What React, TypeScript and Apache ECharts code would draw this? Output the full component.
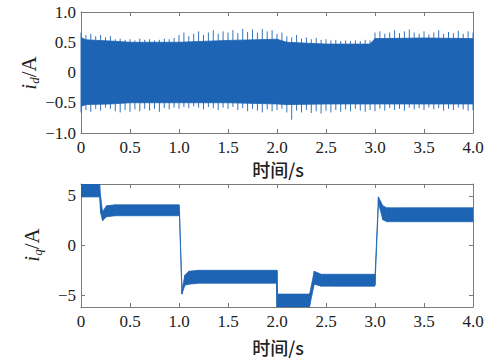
import React, { useEffect, useRef } from "react";
import * as echarts from "echarts";

// ---- i_d (top): dense oscillation, drawn as core band + tip envelope sampled every 0.05 s
const idStep = 0.05;
const idTipHi = [
  0.66, 0.62, 0.64, 0.6, 0.62, 0.58, 0.6, 0.55, 0.56, 0.54, 0.55, 0.53, 0.56, 0.54, 0.55, 0.53, 0.54, 0.56, 0.55, 0.57,
  0.62, 0.66, 0.6, 0.64, 0.68, 0.62, 0.66, 0.7, 0.64, 0.68, 0.66, 0.7, 0.65, 0.72, 0.67, 0.71, 0.66, 0.72, 0.68, 0.7,
  0.64, 0.66, 0.6, 0.58, 0.62, 0.56, 0.58, 0.55, 0.57, 0.54, 0.55, 0.53, 0.54, 0.52, 0.53, 0.52, 0.53, 0.52, 0.54, 0.53,
  0.66, 0.68, 0.64, 0.66, 0.7, 0.65, 0.68, 0.71, 0.66, 0.64, 0.68, 0.63, 0.66, 0.7, 0.64, 0.67, 0.65, 0.69, 0.64, 0.68,
  0.66,
];
const idTipLo = [
  -0.66, -0.62, -0.65, -0.6, -0.63, -0.58, -0.6, -0.64, -0.66, -0.62, -0.65, -0.61, -0.64, -0.6, -0.63, -0.6, -0.65, -0.59, -0.61, -0.58,
  -0.6, -0.57, -0.59, -0.56, -0.58, -0.61, -0.57, -0.59, -0.62, -0.58, -0.6, -0.57, -0.62, -0.59, -0.64, -0.6, -0.63, -0.66, -0.61, -0.64,
  -0.62, -0.6, -0.66, -0.78, -0.63, -0.66, -0.62, -0.67, -0.64, -0.68, -0.63, -0.66, -0.62, -0.65, -0.61, -0.64, -0.6, -0.63, -0.65, -0.62,
  -0.64, -0.6, -0.63, -0.59, -0.62, -0.6, -0.63, -0.58, -0.61, -0.59, -0.62, -0.58, -0.61, -0.59, -0.63, -0.6, -0.62, -0.58, -0.61, -0.63,
  -0.62,
];
const idCoreT = [0, 0.05, 0.3, 0.5, 1.0, 1.5, 2.0, 2.1, 2.5, 2.95, 3.0, 3.5, 4.0];
const idCoreHi = [0.58, 0.54, 0.52, 0.5, 0.5, 0.53, 0.55, 0.5, 0.47, 0.47, 0.56, 0.57, 0.56];
const idCoreLo = [-0.56, -0.53, -0.52, -0.5, -0.5, -0.5, -0.52, -0.53, -0.52, -0.52, -0.52, -0.52, -0.52];

// ---- i_q (bottom): band (low / high) over time
const iqT = [0, 0.19, 0.2, 0.22, 0.26, 0.35, 1.0, 1.005, 1.03, 1.06, 1.1, 1.2, 1.995, 2.0, 2.005, 2.33, 2.335, 2.38, 2.45, 2.6, 2.995, 3.0, 3.035, 3.08, 3.12, 3.3, 4.0];
const iqLo = [4.9, 4.9, 3.3, 2.5, 2.9, 3.0, 3.0, 3.0, -4.9, -4.0, -3.9, -3.8, -3.8, -6.2, -6.2, -6.2, -6.0, -3.9, -4.1, -4.1, -4.1, -4.0, 4.3, 2.6, 2.4, 2.4, 2.4];
const iqHi = [6.2, 6.2, 4.9, 3.4, 4.0, 4.1, 4.1, 3.4, -4.5, -3.0, -2.6, -2.5, -2.5, -2.5, -4.9, -4.9, -4.8, -2.6, -2.9, -2.9, -2.9, -3.2, 4.9, 4.0, 3.8, 3.8, 3.8];

const iqTicks = [-5, 0, 5];

const BLUE = "#1e64b4";
const AXIS = "#7a7a7a";
const SERIF = "Liberation Serif";
const CJK = "Noto Sans CJK SC";

const neg = (v: number) => (v < 0 ? "\u2212" : "");
const fmt1 = (v: number) => (v === 0 ? "0" : neg(v) + Math.abs(v).toFixed(1));
const fmt0 = (v: number) => neg(v) + Math.abs(v).toFixed(0);

function bandSeries(name: string, xi: number, yi: number, t: number[], lo: number[], hi: number[]) {
  const data = t.map((x, i) => [x, lo[i], hi[i]]);
  return {
    name,
    type: "custom",
    xAxisIndex: xi,
    yAxisIndex: yi,
    clip: true,
    encode: { x: 0, y: [1, 2] },
    data,
    renderItem: (params: any, api: any) => {
      const i = params.dataIndex;
      if (i >= data.length - 1) return null;
      const a = data[i];
      const b = data[i + 1];
      const p1 = api.coord([a[0], a[1]]);
      const p2 = api.coord([a[0], a[2]]);
      const p3 = api.coord([b[0], b[2]]);
      const p4 = api.coord([b[0], b[1]]);
      return {
        type: "polygon",
        shape: { points: [p1, p2, p3, p4] },
        style: { fill: BLUE, stroke: BLUE, lineWidth: 0.8 },
      };
    },
  };
}

function tipSeries() {
  const data = idTipHi.map((h, i) => [i * idStep, idTipLo[i], h]);
  return {
    name: "id-tips",
    type: "custom",
    xAxisIndex: 0,
    yAxisIndex: 0,
    encode: { x: 0, y: [1, 2] },
    data,
    renderItem: (_p: any, api: any) => {
      const x = api.value(0);
      const a = api.coord([x, api.value(1)]);
      const b = api.coord([x, api.value(2)]);
      return {
        type: "line",
        shape: { x1: a[0], y1: a[1], x2: b[0], y2: b[1] },
        style: { stroke: BLUE, lineWidth: 0.9 },
      };
    },
  };
}

function xAxisDef(grid: number, top: boolean) {
  return {
    type: "value",
    gridIndex: grid,
    position: top ? "top" : "bottom",
    min: 0,
    max: 4,
    interval: 0.5,
    axisLine: { show: true, onZero: false, lineStyle: { color: AXIS, width: 1 } },
    axisTick: { show: true, inside: true, length: 4, lineStyle: { color: AXIS } },
    axisLabel: top
      ? { show: false }
      : { show: true, margin: 6, color: "#222", fontFamily: SERIF, fontSize: 17, formatter: fmt1 },
    splitLine: { show: false },
  };
}

function yAxisDef(grid: number, right: boolean, min: number, max: number, ticks: number[] | null) {
  const base: any = {
    type: "value",
    gridIndex: grid,
    position: right ? "right" : "left",
    min,
    max,
    axisLine: { show: true, onZero: false, lineStyle: { color: AXIS, width: 1 } },
    axisTick: { show: true, inside: true, length: 4, lineStyle: { color: AXIS } },
    axisLabel: right
      ? { show: false }
      : { show: true, margin: 5, color: "#222", fontFamily: SERIF, fontSize: 17, formatter: ticks ? fmt0 : fmt1 },
    splitLine: { show: false },
  };
  if (ticks) {
    base.axisTick.customValues = ticks;
    if (!right) base.axisLabel.customValues = ticks;
  } else {
    base.interval = 0.5;
  }
  return base;
}

function yName(x: number, y: number, sub: string) {
  return {
    type: "text",
    x,
    y,
    rotation: Math.PI / 2,
    style: {
      text: `{i|i}{s|${sub}}{a|/A}`,
      align: "center",
      verticalAlign: "middle",
      fill: "#222",
      rich: {
        i: { fontFamily: SERIF, fontStyle: "italic", fontSize: 21, fill: "#222" },
        s: { fontFamily: SERIF, fontStyle: "italic", fontSize: 13, fill: "#222", padding: [10, 0, 0, 0] },
        a: { fontFamily: SERIF, fontSize: 21, fill: "#222" },
      },
    },
  };
}

export default function App() {
  const ref = useRef<HTMLDivElement>(null);
  useEffect(() => {
    if (!ref.current) return;
    const chart = echarts.init(ref.current, null, { renderer: "svg" });
    chart.setOption({
      animation: false,
      backgroundColor: "#ffffff",
      textStyle: { fontFamily: SERIF },
      grid: [
        { left: 81, top: 12, width: 392, height: 121 },
        { left: 81, top: 184, width: 392, height: 123 },
      ],
      xAxis: [xAxisDef(0, false), xAxisDef(0, true), xAxisDef(1, false), xAxisDef(1, true)],
      yAxis: [
        yAxisDef(0, false, -1, 1, null),
        yAxisDef(0, true, -1, 1, null),
        yAxisDef(1, false, -6.2, 6.2, iqTicks),
        yAxisDef(1, true, -6.2, 6.2, iqTicks),
      ],
      series: [
        tipSeries(),
        bandSeries("id-core", 0, 0, idCoreT, idCoreLo, idCoreHi),
        bandSeries("iq", 2, 2, iqT, iqLo, iqHi),
      ],
      graphic: [
        {
          type: "text",
          x: 278,
          y: 169,
          style: { text: "时间/s", align: "center", verticalAlign: "middle", fill: "#222", font: `500 18px "${CJK}"` },
        },
        {
          type: "text",
          x: 278,
          y: 347,
          style: { text: "时间/s", align: "center", verticalAlign: "middle", fill: "#222", font: `500 18px "${CJK}"` },
        },
        yName(29, 73, "d"),
        yName(32, 245, "q"),
      ],
    });
    return () => chart.dispose();
  }, []);
  return <div ref={ref} style={{ position: "fixed", left: 0, top: 0, width: 491, height: 359 }} />;
}
